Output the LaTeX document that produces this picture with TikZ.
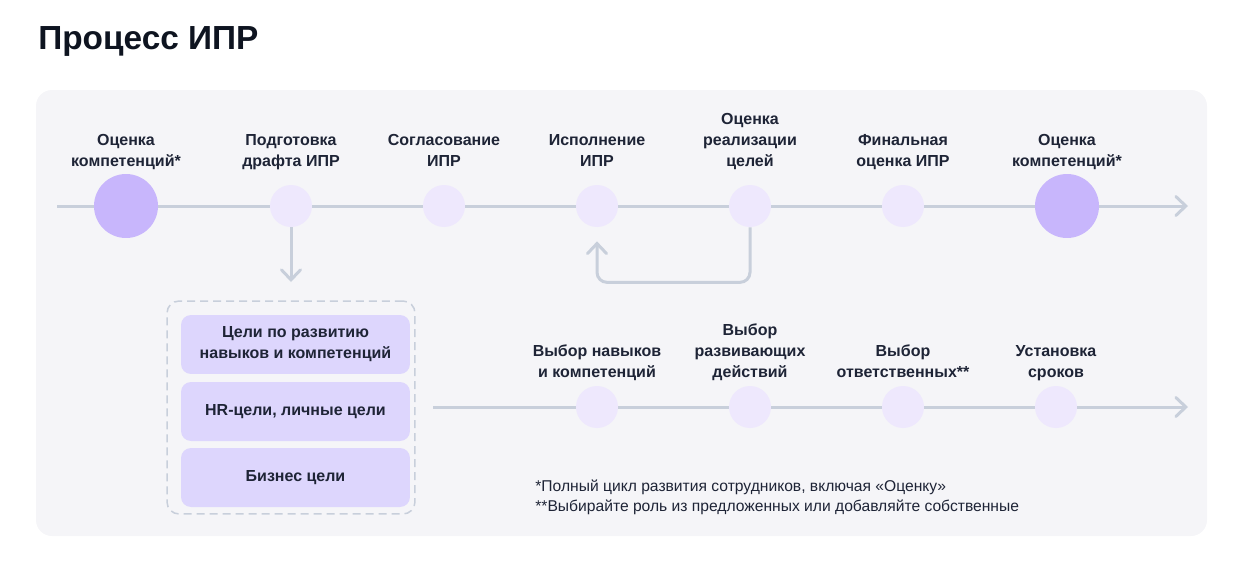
\documentclass[tikz,border=0pt]{standalone}
\usepackage{fontspec}
\setmainfont{Liberation Sans}
\usetikzlibrary{arrows.meta,calc}
\definecolor{panelgray}{HTML}{F5F5F8}
\definecolor{linegray}{HTML}{C8CFDB}
\definecolor{dotlight}{HTML}{EEE8FD}
\definecolor{dotdark}{HTML}{C8B6FC}
\definecolor{boxlilac}{HTML}{DDD6FD}
\definecolor{textdark}{HTML}{1E2436}
\definecolor{titledark}{HTML}{0E1420}

\begin{document}
\begin{tikzpicture}[x=0.02cm,y=-0.02cm,
  >={Straight Barb[length=0.2cm,width=0.38cm,line cap=round]},
  flow/.style={draw=linegray,line width=0.06cm},
  smalldot/.style={circle,fill=dotlight,minimum size=0.84cm,inner sep=0pt},
  bigdot/.style={circle,fill=dotdark,minimum size=1.28cm,inner sep=0pt},
  lbl/.style={anchor=south,align=center,inner sep=0pt,text depth=0.1cm,text=textdark,
    font=\fontsize{9.1}{12}\selectfont\bfseries},
  goalbox/.style={fill=boxlilac,rounded corners=0.2cm,minimum width=4.58cm,
    minimum height=1.18cm,align=center,text=textdark,
    font=\fontsize{9.1}{12}\selectfont\bfseries}]
  \useasboundingbox (0,0) rectangle (1241,575);

  % Title and panel
  \node[anchor=base west,inner sep=0pt,text=titledark,
    font=\fontsize{19}{23}\selectfont\bfseries] (title) at (38,49) {Процесс ИПР};
  \fill[panelgray,rounded corners=0.32cm] (36,90) rectangle (1207,536);

  % Top row
  \coordinate (tstart) at (57,206);
  \coordinate (tend) at (1188,206);
  \draw[flow,->] (tstart) -- (tend);
  \foreach \n/\x/\s/\t in {ok1/126/bigdot/{Оценка\\компетенций*},
      pdg/291/smalldot/{Подготовка\\драфта ИПР},
      sgl/444/smalldot/{Согласование\\ИПР},
      isp/597/smalldot/{Исполнение\\ИПР},
      ocr/750/smalldot/{Оценка\\реализации\\целей},
      fin/903/smalldot/{Финальная\\оценка ИПР},
      ok2/1067/bigdot/{Оценка\\компетенций*}} {
    \node[bigdot,\s] (\n) at (\x,206) {};
    \node[lbl] (\n-lbl) at (\x,172) {\t};
  }

  % Down arrow and loop back
  \coordinate (pdgend) at (291,282);
  \draw[flow,->] (pdg.south) -- (pdgend);
  \draw[flow,->,rounded corners=0.2cm] (ocr.south) -- ++(0,55) -| ($(isp.south)+(0,14)$);

  % Goals
  \node[draw=linegray,line width=0.03cm,dash pattern=on 0.16cm off 0.1cm,
    rounded corners=0.24cm,minimum width=4.96cm,minimum height=4.26cm]
    (goals) at (291,407.5) {};
  \node[goalbox] (g1) at (295.5,344.5) {Цели по развитию\\навыков и компетенций};
  \node[goalbox] (g2) at (295.5,411.5) {HR-цели, личные цели};
  \node[goalbox] (g3) at (295.5,477.5) {Бизнес цели};

  % Bottom row
  \coordinate (bstart) at (433,407);
  \coordinate (bend) at (1188,407);
  \draw[flow,->] (bstart) -- (bend);
  \foreach \n/\x/\t in {vnk/597/{Выбор навыков\\и компетенций},
      vrd/750/{Выбор\\развивающих\\действий},
      vot/903/{Выбор\\ответственных**},
      ust/1056/{Установка\\сроков}} {
    \node[smalldot] (\n) at (\x,407) {};
    \node[lbl] (\n-lbl) at (\x,383) {\t};
  }

  % Notes
  \node[anchor=base west,inner sep=0pt,text=textdark,font=\fontsize{8.9}{11}\selectfont]
    (fn1) at (535,491) {*Полный цикл развития сотрудников, включая «Оценку»};
  \node[anchor=base west,inner sep=0pt,text=textdark,font=\fontsize{8.9}{11}\selectfont]
    (fn2) at (535,511) {**Выбирайте роль из предложенных или добавляйте собственные};
\end{tikzpicture}
\end{document}
